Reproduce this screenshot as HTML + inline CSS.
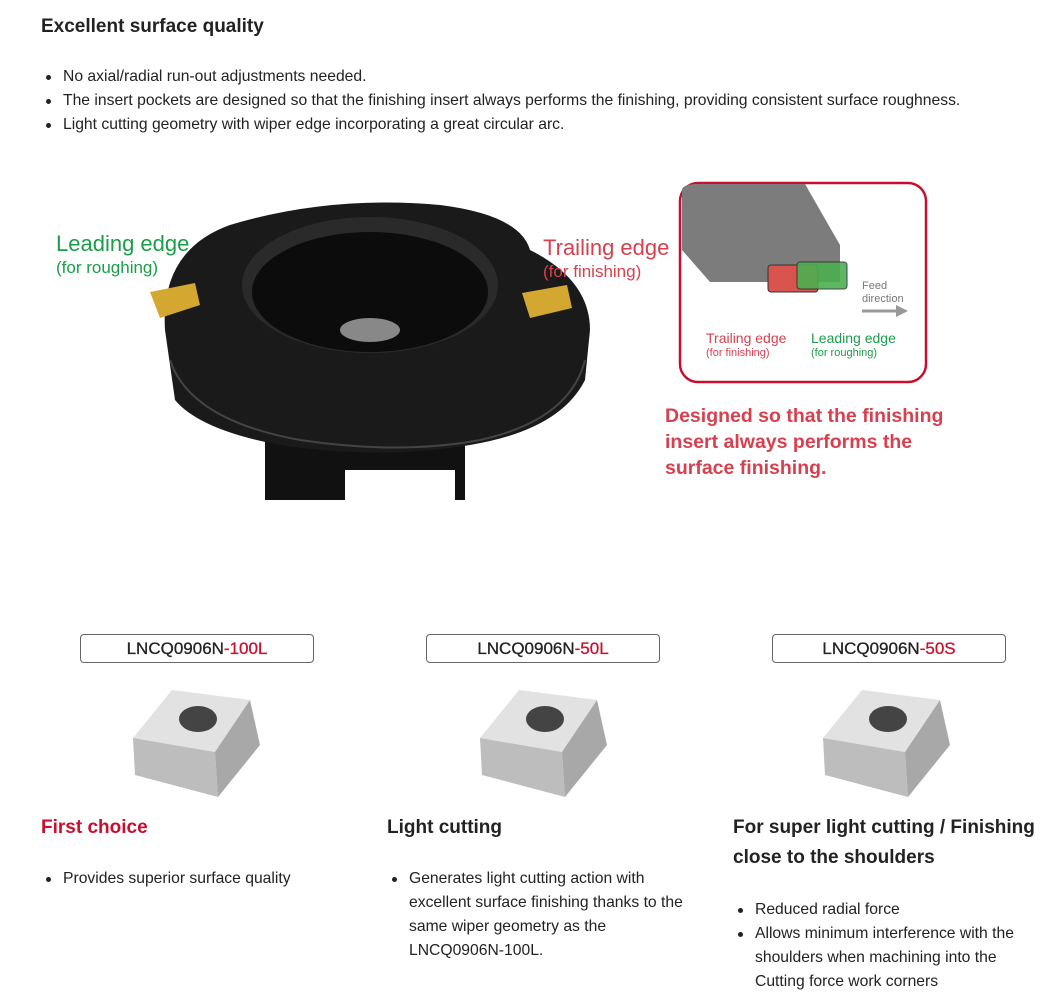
<!DOCTYPE html>
<html><head><meta charset="utf-8"><style>
body{margin:0;width:1064px;height:1004px;background:#fff;font-family:"Liberation Sans",Arial,sans-serif;color:#222;position:relative;overflow:hidden}
.a{position:absolute;white-space:nowrap}
ul{margin:0;padding:0;list-style:none}
li{position:relative;padding-left:22px}
li:before{content:"";position:absolute;left:5px;top:10px;width:5px;height:5px;border-radius:50%;background:#222}
.t{font-size:15.7px;line-height:24px}
.box{position:absolute;border:1px solid #666;border-radius:4px;height:27px;text-align:center;font-size:17px;line-height:28px;color:#222;-webkit-text-stroke:0.3px #222}
.box span{color:#c8102e;-webkit-text-stroke:0.3px #c8102e}
.h{font-size:19px;font-weight:bold;line-height:30px}
</style></head><body>
<div class="a" style="left:41px;top:16px;font-size:19px;font-weight:bold">Excellent surface quality</div>
<ul class="a t" style="left:41px;top:65px">
<li>No axial/radial run-out adjustments needed.</li>
<li>The insert pockets are designed so that the finishing insert always performs the finishing, providing consistent surface roughness.</li>
<li>Light cutting geometry with wiper edge incorporating a great circular arc.</li>
</ul>
<svg class="a" style="left:0;top:0" width="1064" height="1004">
<rect x="265" y="440" width="200" height="60" fill="#111"/>
<rect x="345" y="470" width="110" height="30" fill="#fff"/>
<path d="M165,330 Q160,250 230,225 Q330,195 440,205 Q520,215 530,250 Q590,280 590,330 L585,380 Q560,430 470,445 Q380,460 280,445 Q200,430 175,400 Z" fill="#1a1a1a"/>
<path d="M170,360 Q190,420 300,440 Q400,455 480,440 Q570,420 585,360" stroke="#444" stroke-width="2" fill="none"/>
<ellipse cx="370" cy="285" rx="128" ry="68" fill="#2a2a2a"/>
<ellipse cx="370" cy="292" rx="118" ry="60" fill="#0c0c0c"/>
<ellipse cx="370" cy="330" rx="30" ry="12" fill="#888"/>
<polygon points="150,292 195,283 200,305 160,318" fill="#d4a830"/>
<polygon points="522,293 567,285 572,308 530,318" fill="#d4a830"/>
<rect x="680" y="183" width="246" height="199" rx="18" fill="#fff" stroke="#c8102e" stroke-width="2.5"/>
<path d="M682,190 Q682,185 695,184 L805,184 L840,245 L840,282 L710,282 L682,250 Z" fill="#7c7c7c"/>
<rect x="768" y="265" width="50" height="27" rx="3" fill="#d9534f" stroke="#333"/>
<rect x="797" y="262" width="50" height="27" rx="3" fill="#4caf50" stroke="#333" opacity=".9"/>
<line x1="862" y1="311" x2="898" y2="311" stroke="#999" stroke-width="3"/>
<polygon points="896,305 908,311 896,317" fill="#999"/>
<g id="i1"><polygon points="133,738 172,690 250,700 215,752" fill="#e2e2e2"/><polygon points="133,738 215,752 218,797 135,775" fill="#bdbdbd"/><polygon points="215,752 250,700 260,745 218,797" fill="#a8a8a8"/><ellipse cx="198" cy="719" rx="19" ry="13" fill="#444"/></g>
<use href="#i1" x="347"/><use href="#i1" x="690"/>
</svg>
<div class="a" style="left:56px;top:231px;color:#1a9e4a;font-size:22px">Leading edge</div>
<div class="a" style="left:56px;top:258px;color:#1a9e4a;font-size:17px">(for roughing)</div>
<div class="a" style="left:543px;top:235px;color:#d7414f;font-size:22px">Trailing edge</div>
<div class="a" style="left:543px;top:262px;color:#d7414f;font-size:17px">(for finishing)</div>
<div class="a" style="left:862px;top:280px;color:#777;font-size:11px;line-height:13px">Feed<br>direction</div>
<div class="a" style="left:706px;top:330px;color:#d7414f;font-size:14px">Trailing edge</div>
<div class="a" style="left:706px;top:347px;color:#d7414f;font-size:11px">(for finishing)</div>
<div class="a" style="left:811px;top:330px;color:#1a9e4a;font-size:14px">Leading edge</div>
<div class="a" style="left:811px;top:347px;color:#1a9e4a;font-size:11px">(for roughing)</div>
<div class="a" style="left:665px;top:403px;color:#d7414f;font-size:19.5px;font-weight:bold;line-height:26px">Designed so that the finishing<br>insert always performs the<br>surface finishing.</div>
<div class="box" style="left:80px;top:634px;width:232px">LNCQ0906N<span>-100L</span></div>
<div class="box" style="left:426px;top:634px;width:232px">LNCQ0906N<span>-50L</span></div>
<div class="box" style="left:772px;top:634px;width:232px">LNCQ0906N<span>-50S</span></div>
<div class="a h" style="left:41px;top:813px;color:#c8102e">First choice</div>
<div class="a h" style="left:387px;top:813px">Light cutting</div>
<div class="a h" style="left:733px;top:813px">For super light cutting / Finishing<br>close to the shoulders</div>
<ul class="a t" style="left:41px;top:867px"><li>Provides superior surface quality</li></ul>
<ul class="a t" style="left:387px;top:867px"><li>Generates light cutting action with<br>excellent surface finishing thanks to the<br>same wiper geometry as the<br>LNCQ0906N-100L.</li></ul>
<ul class="a t" style="left:733px;top:898px"><li>Reduced radial force</li><li>Allows minimum interference with the<br>shoulders when machining into the<br>Cutting force work corners</li></ul>
</body></html>
